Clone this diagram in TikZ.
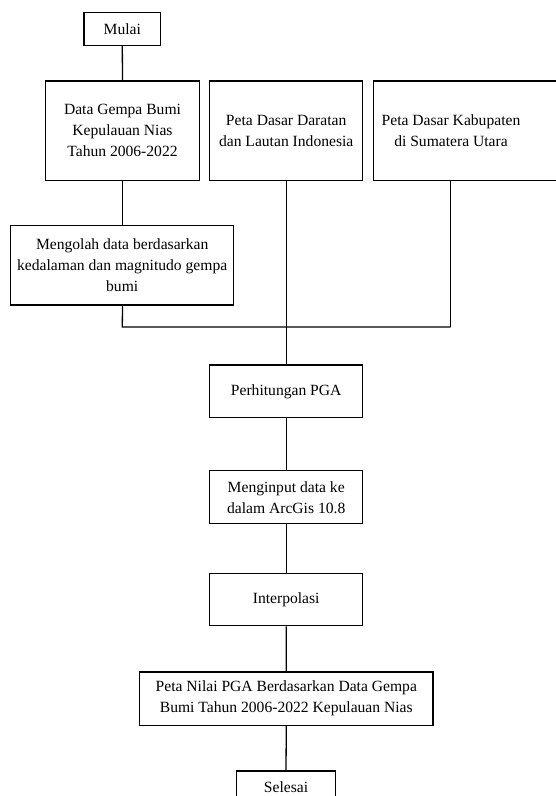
\documentclass[tikz,border=0pt]{standalone}
\usepackage{fontspec}
\setmainfont{Liberation Serif}
\begin{document}
\begin{tikzpicture}[x=1pt,y=-1pt,
  box/.style={draw,line width=1.3pt,inner sep=0pt,align=center,font=\fontsize{15.6}{21}\selectfont},
  conn/.style={line width=1.3pt}]
\useasboundingbox (0,0) rectangle (556,796);
\clip (0,0) rectangle (556,796);
\node[box,minimum width=76.7,minimum height=33] (mulai) at (122.3,28.8) {Mulai};
\node[box,minimum width=153.6,minimum height=99.3] (data) at (122.5,130.7) {Data Gempa Bumi\\Kepulauan Nias\\Tahun 2006-2022};
\node[box,minimum width=153,minimum height=99.3] (darat) at (286.2,130.7) {Peta Dasar Daratan\\dan Lautan Indonesia};
\node[box,minimum width=200,minimum height=99.3] (kab) at (473.3,130.7) {};
\node[align=center,inner sep=0pt,font=\fontsize{15.6}{21}\selectfont] (kabt) at (451,130.7) {Peta Dasar Kabupaten\\di Sumatera Utara};
\node[box,minimum width=223,minimum height=79.3] (olah) at (122.2,265.3) {Mengolah data berdasarkan\\kedalaman dan magnitudo gempa\\bumi};
\node[box,minimum width=153,minimum height=52.7] (pga) at (286.2,391.3) {Perhitungan PGA};
\node[box,minimum width=153,minimum height=53] (input) at (286.2,497.2) {Menginput data ke\\dalam ArcGis 10.8};
\node[box,minimum width=153,minimum height=52.4] (interp) at (286.2,599.5) {Interpolasi};
\node[box,minimum width=293.3,minimum height=53.3] (peta) at (286.3,698.7) {Peta Nilai PGA Berdasarkan Data Gempa\\Bumi Tahun 2006-2022 Kepulauan Nias};
\node[box,minimum width=99.4,minimum height=33] (selesai) at (286,787.5) {Selesai};
\coordinate (jl) at (122.3,327);
\coordinate (jr) at (450.7,327);
\coordinate (jm) at (286.2,327);
\draw[conn] (mulai.south) -- (data.north);
\draw[conn] (data.south) -- (olah.north -| data.south);
\draw[conn] (olah.south -| data.south) -- (jl) -- (jr);
\draw[conn] (kab.south -| jr) -- (jr);
\draw[conn] (darat.south) -- (pga.north);
\draw[conn] (pga.south) -- (input.north);
\draw[conn] (input.south) -- (interp.north);
\draw[conn] (interp.south) -- (peta.north);
\draw[conn] (peta.south) -- (selesai.north);
\end{tikzpicture}
\end{document}
